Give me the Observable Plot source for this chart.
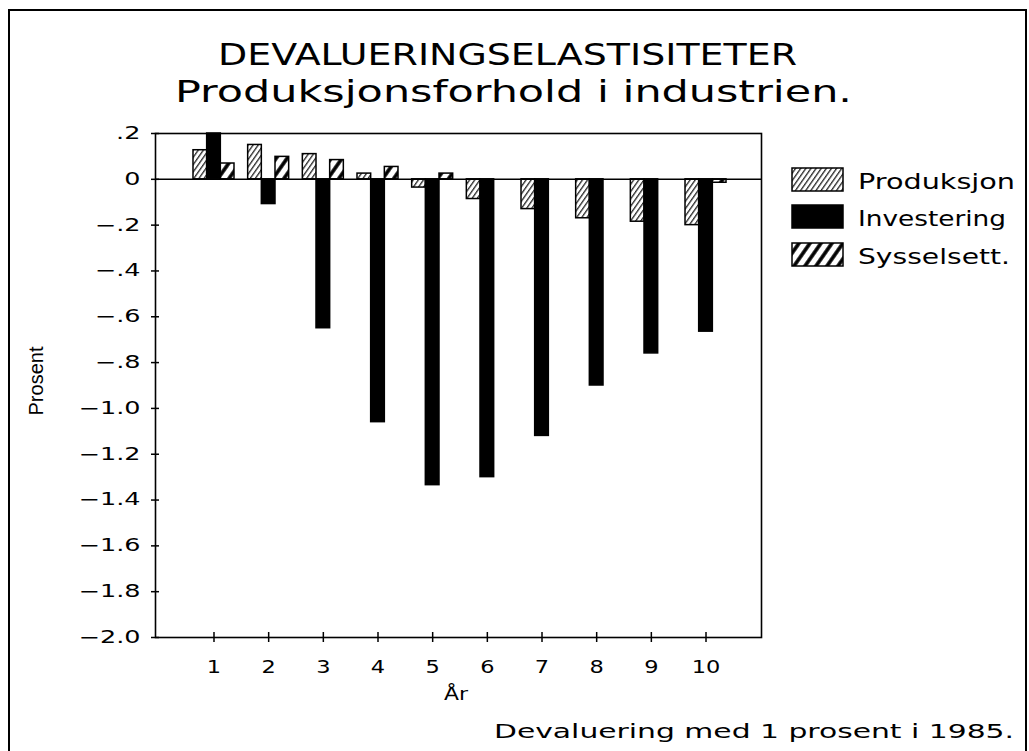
<!DOCTYPE html>
<html>
<head>
<meta charset="utf-8">
<script src="https://cdn.jsdelivr.net/npm/d3@7"></script>
<script src="https://cdn.jsdelivr.net/npm/@observablehq/plot@0.6"></script>
<style>
  html, body { margin: 0; padding: 0; background: #fff; }
  svg { display: block; }
</style>
</head>
<body>
<div id="chart"></div>
<script>
// ---- data ----
const years = [1, 2, 3, 4, 5, 6, 7, 8, 9, 10];
const produksjon  = [0.127, 0.150, 0.110, 0.025, -0.036, -0.086, -0.130, -0.170, -0.185, -0.200];
const investering = [0.200, -0.108, -0.650, -1.060, -1.335, -1.300, -1.120, -0.900, -0.760, -0.665];
const sysselsett  = [0.069, 0.098, 0.084, 0.054, 0.025, 0.000, 0.000, 0.000, 0.000, -0.015];
const seriesNames = ["Produksjon", "Investering", "Sysselsett."];
const yTicks = [0.2, 0, -0.2, -0.4, -0.6, -0.8, -1.0, -1.2, -1.4, -1.6, -1.8, -2.0];
const titleText = "DEVALUERINGSELASTISITETER";
const subtitleText = "Produksjonsforhold i industrien.";
const xLabel = "År";
const yLabel = "Prosent";
const captionText = "Devaluering med 1 prosent i 1985.";

// ---- build table ----
const seriesValues = [produksjon, investering, sysselsett];
const rows = years.flatMap((yr, i) =>
  seriesValues.map((arr, k) => ({year: yr, k, series: seriesNames[k], value: arr[i]}))
);
const fills = ["url(#hatchThin)", "black", "url(#hatchThick)"];
const bw = 0.25;

const fmt = d => {
  if (Math.abs(d) < 1e-9) return "0";
  const s = Math.abs(d).toFixed(1).replace(/^0/, "");
  return (d < 0 ? "\u2212" : "") + s;
};

const barMarks = [0, 1, 2].map(k =>
  Plot.rect(rows.filter(d => d.k === k), {
    x1: d => d.year + (d.k - 1.5) * bw,
    x2: d => d.year + (d.k - 0.5) * bw,
    y1: 0,
    y2: "value",
    fill: fills[k],
    stroke: "black",
    strokeWidth: 1.5
  })
);

const W = 1029, H = 751;
const plot = Plot.plot({
  width: W,
  height: H,
  marginLeft: 155,
  marginRight: W - 761,
  marginTop: 133,
  marginBottom: H - 637,
  x: {domain: [-0.07, 11.015]},
  y: {domain: [-2.0, 0.2]},
  style: {fontFamily: "DejaVu Sans", color: "black", background: "white", overflow: "visible"},
  marks: [
    Plot.frame({stroke: "black", strokeWidth: 1.6}),
    ...barMarks,
    Plot.ruleY([0], {stroke: "black", strokeWidth: 1.6}),
    // y tick labels
    Plot.axisY({ticks: yTicks, tickSize: 0, tickPadding: 15, tickFormat: fmt, fontSize: 17, label: null}),
    // y tick marks crossing the axis
    Plot.axisY({ticks: yTicks, tickSize: 8, dx: 4, tickFormat: () => "", strokeWidth: 1.5, label: null}),
    // x tick labels
    Plot.axisX({ticks: years, tickSize: 0, tickPadding: 23, tickFormat: d => String(d), fontSize: 18, label: null}),
    // x tick marks crossing the axis
    Plot.axisX({ticks: years, tickSize: 10, dy: -5, tickFormat: () => "", strokeWidth: 1.5, label: null})
  ]
});

document.getElementById("chart").appendChild(plot);
const svg = d3.select(plot);

// patterns
svg.insert("defs", ":first-child").html(`
  <pattern id="hatchThin" patternUnits="userSpaceOnUse" width="4.2" height="10" patternTransform="rotate(35)">
    <rect width="4.2" height="10" fill="white"/>
    <line x1="0.7" y1="0" x2="0.7" y2="10" stroke="black" stroke-width="1.1"/>
  </pattern>
  <pattern id="hatchThick" patternUnits="userSpaceOnUse" width="9" height="10" patternTransform="rotate(35)">
    <rect width="9" height="10" fill="white"/>
    <line x1="2" y1="0" x2="2" y2="10" stroke="black" stroke-width="3.6"/>
  </pattern>
`);

// stretch axis labels to the wide plotter lettering
function stretch(sel, factor) {
  sel.each(function () {
    const w = this.getComputedTextLength();
    if (w > 0) {
      this.setAttribute("textLength", (w * factor).toFixed(1));
      this.setAttribute("lengthAdjust", "spacingAndGlyphs");
    }
  });
}
stretch(svg.selectAll('[aria-label="y-axis tick label"] text'), 1.5);
stretch(svg.selectAll('[aria-label="x-axis tick label"] text'), 1.25);

// outer border
svg.append("rect")
  .attr("x", 9).attr("y", 10).attr("width", 1017).attr("height", 800)
  .attr("fill", "none").attr("stroke", "black").attr("stroke-width", 2);

const txt = (s, x, y, size, len, family) => {
  const t = svg.append("text").text(s)
    .attr("x", x).attr("y", y)
    .attr("text-anchor", "start")
    .attr("font-family", family || "DejaVu Sans")
    .attr("font-size", size).attr("fill", "black");
  if (len) t.attr("textLength", len).attr("lengthAdjust", "spacingAndGlyphs");
  return t;
};

// titles
txt(titleText, 218, 65, 30, 579);
txt(subtitleText, 175, 102, 30, 677);

// axis titles
svg.append("text").text(yLabel)
  .attr("transform", "translate(43,381) rotate(-90)")
  .attr("text-anchor", "middle")
  .attr("font-family", "Liberation Sans").attr("font-size", 20).attr("fill", "black");
svg.append("text").text(xLabel)
  .attr("x", 456).attr("y", 700)
  .attr("text-anchor", "middle")
  .attr("textLength", 24).attr("lengthAdjust", "spacingAndGlyphs")
  .attr("font-family", "DejaVu Sans").attr("font-size", 18).attr("fill", "black");

// caption
txt(captionText, 494, 738, 20, 520);

// legend
const legendY = [168, 205, 243];
const legendW = [157, 148, 152];
seriesNames.forEach((name, k) => {
  svg.append("rect")
    .attr("x", 792).attr("y", legendY[k]).attr("width", 51).attr("height", 23)
    .attr("fill", fills[k]).attr("stroke", "black").attr("stroke-width", 1.5);
  txt(name, 858, legendY[k] + 21, 21, legendW[k]);
});
</script>
</body>
</html>
